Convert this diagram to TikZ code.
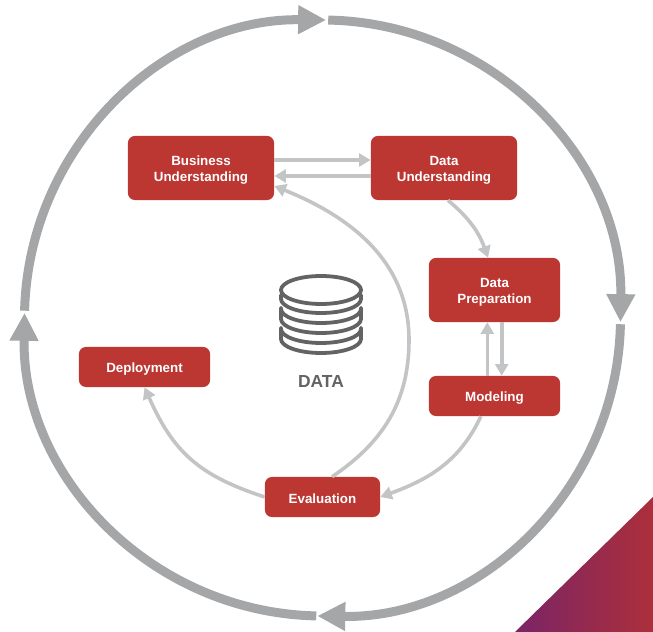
\documentclass[tikz,border=0pt]{standalone}
\usepackage{fontspec}
\setmainfont{Liberation Sans}
\usetikzlibrary{arrows.meta}
\definecolor{boxred}{HTML}{BC3632}
\definecolor{ringgray}{HTML}{A5A6A8}
\definecolor{linkgray}{HTML}{C3C4C6}
\definecolor{icongray}{HTML}{636363}
\definecolor{cornerleft}{HTML}{7A2466}
\definecolor{cornerright}{HTML}{AC2F3B}
\tikzset{
  stagebox/.style={fill=boxred,rounded corners=0.17cm,text=white,align=center,
    font=\fontsize{9.5}{11.4}\selectfont\bfseries,
    execute at begin node={\rule{0pt}{9.6pt}}},
  twoline/.style={minimum height=1.6cm,execute at begin node={\rule{0pt}{21.2pt}}},
  ring/.style={ringgray,line width=0.225cm,-{Triangle[length=0.7cm,width=0.68cm]}},
  link/.style={linkgray,line width=0.09cm,-{Triangle[length=0.29cm,width=0.32cm]}},
  disk/.style={icongray,line width=0.095cm,line cap=round,line join=round}
}
\begin{document}
\begin{tikzpicture}[x=0.025cm,y=0.025cm]
  \useasboundingbox (0,0) rectangle (653,632);
  \shade[left color=cornerleft,right color=cornerright] (515,0) -- (653,135) -- (653,0) -- cycle;

  \coordinate (C) at (322.5,314);
  \foreach \a/\b in {178.6/89.3,88.9/-0.8,-1.2/-91,-91.2/-181}
    \draw[ring] (C) ++(\a:298) arc[start angle=\a,end angle=\b,radius=298];

  \node[stagebox,twoline,minimum width=3.65cm] (bu) at (201,464) {Business\\Understanding};
  \node[stagebox,twoline,minimum width=3.65cm] (du) at (444,464) {Data\\Understanding};
  \node[stagebox,twoline,minimum width=3.275cm] (dp) at (494.5,342) {Data\\Preparation};
  \node[stagebox,minimum width=3.275cm,minimum height=1cm] (mo) at (494.5,236) {Modeling};
  \node[stagebox,minimum width=2.875cm,minimum height=1cm] (ev) at (322.5,135) {Evaluation};
  \node[stagebox,minimum width=3.275cm,minimum height=1cm] (de) at (144.5,265) {Deployment};
  \coordinate (bend) at (409,292);

  \draw[link] ([yshift=0.2cm]bu.east) -- ([yshift=0.2cm]du.west);
  \draw[link] ([yshift=-0.2cm]du.west) -- ([yshift=-0.2cm]bu.east);
  \draw[link] ([xshift=0.1cm]du.south) to[out=-40,in=110] ([xshift=-0.16cm]dp.north);
  \draw[link] ([xshift=-0.18cm]mo.north) -- ([xshift=-0.18cm]dp.south);
  \draw[link] ([xshift=0.18cm]dp.south) -- ([xshift=0.18cm]mo.north);
  \draw[link] ([xshift=-0.34cm]mo.south) to[out=-115,in=20] (ev.east);
  \draw[link] ([xshift=0.24cm]ev.north) to[out=34,in=-90] (bend) to[out=90,in=-22] ([yshift=-0.45cm]bu.east);
  \draw[link] (ev.west) to[out=162,in=-66,looseness=1.1] (de.south);

  \draw[disk] (321,342) ellipse [x radius=40,y radius=14];
  \foreach \top/\bot in {337/333,324/323,324/313,304/303,304/293}
    \draw[disk] (281,\top) -- (281,\bot) arc[start angle=180,end angle=360,x radius=40,y radius=14] -- (361,\top);

  \node[icongray,font=\fontsize{12.4}{14}\selectfont\bfseries] (datalabel) at (321,250) {DATA};
\end{tikzpicture}
\end{document}
